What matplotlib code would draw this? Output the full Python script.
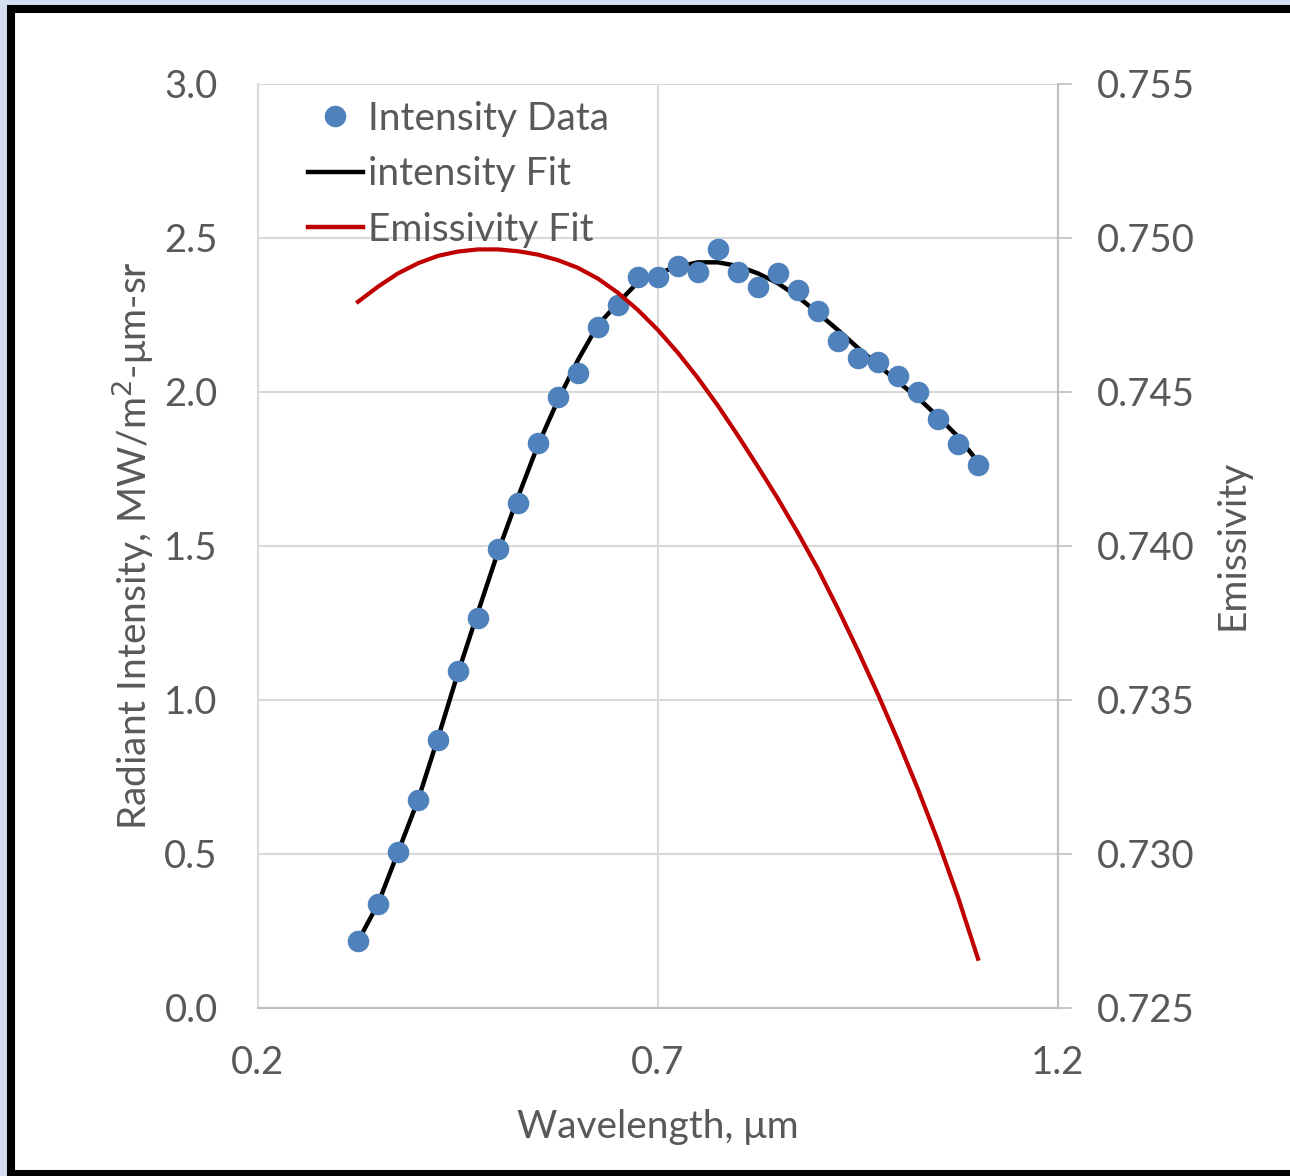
import numpy as np
import matplotlib
matplotlib.use("Agg")
import matplotlib.pyplot as plt
from matplotlib.patches import Rectangle
from matplotlib.lines import Line2D

plt.rcParams['font.family'] = ['Lato', 'DejaVu Sans']

# measured intensity (MW/m2-um-sr)
wl_data = np.array([0.325, 0.35, 0.375, 0.4, 0.425, 0.45, 0.475, 0.5, 0.525, 0.55,
                    0.575, 0.6, 0.625, 0.65, 0.675, 0.7, 0.725, 0.75, 0.775, 0.8,
                    0.825, 0.85, 0.875, 0.9, 0.925, 0.95, 0.975, 1.0, 1.025, 1.05,
                    1.075, 1.1])
intensity_data = np.array([0.217, 0.337, 0.508, 0.676, 0.871, 1.095, 1.265, 1.490, 1.638, 1.833,
                           1.984, 2.062, 2.211, 2.282, 2.374, 2.374, 2.409, 2.389, 2.463, 2.389,
                           2.342, 2.385, 2.331, 2.264, 2.166, 2.111, 2.098, 2.053, 1.999, 1.911,
                           1.831, 1.763])

# intensity fit curve
wl_fit = wl_data
intensity_fit = np.array([0.217, 0.338, 0.506, 0.675, 0.877, 1.088, 1.286, 1.481, 1.659, 1.828,
                          1.974, 2.104, 2.218, 2.289, 2.357, 2.386, 2.407, 2.421, 2.421, 2.409,
                          2.385, 2.353, 2.309, 2.256, 2.201, 2.143, 2.088, 2.033, 1.981, 1.920,
                          1.855, 1.773])

# emissivity fit (right axis)
wl_emis = wl_data
emissivity_fit = np.array([0.74793, 0.74842, 0.74885, 0.74918, 0.74942, 0.74956, 0.74963, 0.74963,
                           0.74957, 0.74946, 0.74928, 0.74903, 0.74868, 0.74822, 0.74766, 0.74701,
                           0.74627, 0.74545, 0.74455, 0.74358, 0.74257, 0.74153, 0.74042, 0.73925,
                           0.73796, 0.73660, 0.73518, 0.73368, 0.73210, 0.73042, 0.72860, 0.72660])

txt = '#595959'
grid_c = '#d9d9d9'
axis_c = '#bfbfbf'

W, H = 1290, 1176
fig = plt.figure(figsize=(12.9, 11.76), dpi=100, facecolor='#d3dfef')
# black frame around the chart
frame = Rectangle((11 / W, 2 / H), (1300 - 11) / W, (1167 - 2) / H,
                  transform=fig.transFigure, facecolor='white', edgecolor='black',
                  linewidth=5.8, zorder=-5)
fig.add_artist(frame)

ax = fig.add_axes([258 / W, 1 - 1008 / H, 800 / W, 924 / H])
ax.set_facecolor('none')
ax2 = ax.twinx()

ax.set_xlim(0.2, 1.2)
ax.set_ylim(0, 3.0)
ax2.set_ylim(0.725, 0.755)
ax.set_xticks([0.2, 0.7, 1.2])
ax.set_yticks(np.arange(0, 3.01, 0.5))
ax2.set_yticks(np.arange(0.725, 0.7551, 0.005))
ax.set_xticklabels(['0.2', '0.7', '1.2'])
ax.set_yticklabels([f'{v:.1f}' for v in np.arange(0, 3.01, 0.5)])
ax2.set_yticklabels([f'{v:.3f}' for v in np.arange(0.725, 0.7551, 0.005)])

ax.grid(True, color=grid_c, linewidth=1.5)
ax.set_axisbelow(True)

ax.spines['top'].set_visible(False)
ax2.spines['top'].set_visible(False)
ax.spines['left'].set_color(grid_c)
ax.spines['left'].set_linewidth(1.5)
ax.spines['bottom'].set_color(axis_c)
ax.spines['bottom'].set_linewidth(1.5)
ax.spines['right'].set_visible(False)
ax2.spines['left'].set_visible(False)
ax2.spines['bottom'].set_visible(False)
ax2.spines['right'].set_color(axis_c)
ax2.spines['right'].set_linewidth(1.5)

ax.tick_params(axis='y', length=0, pad=29, labelsize=27.5, labelcolor=txt)
ax.tick_params(axis='x', length=0, pad=27, labelsize=27.5, labelcolor=txt)
ax2.tick_params(axis='y', length=10, width=1.2, color=axis_c, pad=18, labelsize=27.5, labelcolor=txt)

ax.plot(wl_fit, intensity_fit, color='black', linewidth=3.2, zorder=2)
ax.plot(wl_data, intensity_data, 'o', color='#4f81bd', markersize=14.5, zorder=3)
ax2.plot(wl_emis, emissivity_fit, color='#c00000', linewidth=3.0)

# axis titles placed at their pixel centres
fig.text(658 / W, 1 - 1127 / H, 'Wavelength, μm', fontsize=28, color=txt,
         ha='center', va='center')
fig.text(133 / W, 1 - 546 / H, 'Radiant Intensity, MW/m$^2$-μm-sr', fontsize=28,
         color=txt, ha='center', va='center', rotation=90)
fig.text(1232 / W, 1 - 545 / H, 'Emissivity', fontsize=28, color=txt,
         ha='center', va='center', rotation=90)

handles = [
    Line2D([], [], linestyle='none', marker='o', color='#4f81bd', markersize=14.5),
    Line2D([], [], color='black', linewidth=3.2),
    Line2D([], [], color='#c00000', linewidth=3.2),
]
labels = ['Intensity Data', 'intensity Fit', 'Emissivity Fit']
leg = ax2.legend(handles, labels, loc='upper left', bbox_to_anchor=(50 / 800, 1 - 17 / 924),
                 frameon=False, fontsize=28, handlelength=1.41, handletextpad=0.13,
                 labelspacing=0.5, borderaxespad=0, borderpad=0)
for t in leg.get_texts():
    t.set_color(txt)

fig.savefig('out.png', dpi=100, facecolor=fig.get_facecolor())
